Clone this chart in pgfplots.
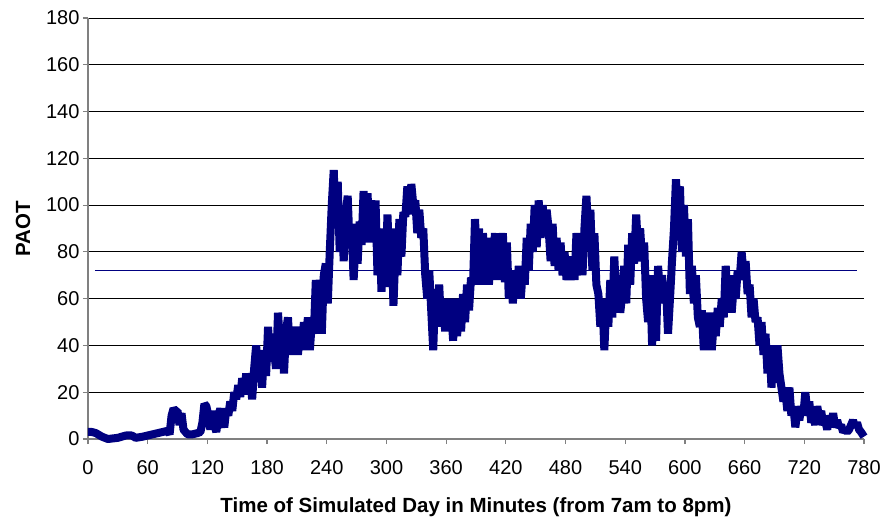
\documentclass[border=0pt]{standalone}
\usepackage{pgfplots}
\pgfplotsset{compat=1.18}
\usepackage{fontspec}
\setmainfont{Liberation Sans}
\definecolor{navyc}{RGB}{0,0,128}
\pgfplotstableread{
t v
0 3
4 3
8 2.5
14 1
20 0
30 0.5
38 1.5
44 1.5
48 0.5
55 1
65 2
75 3
80 3.5
82 2
84 10
86 13
88 12
90 12
92 6
94 11
96 4
100 2
105 2
110 2.5
113 3
115 7
117 15
119 14
121 10
123 4
125 12
127 6
129 3
131 10
133 13
135 8
137 5
139 13
141 10
143 16
145 12
147 20
149 17
151 23
153 18
155 26
157 19
159 28
161 22
163 26
165 17
167 30
169 40
171 28
173 35
175 22
177 38
179 27
181 48
183 33
185 45
187 38
189 30
191 54
193 40
195 48
197 28
199 46
201 52
203 36
205 44
207 38
209 48
211 36
213 45
215 38
217 50
219 40
221 52
223 38
225 50
227 45
229 68
231 55
233 60
235 45
237 70
239 75
241 58
243 80
245 100
247 115
249 90
251 110
253 80
255 100
257 76
259 95
261 104
263 82
265 92
267 68
269 85
271 75
273 93
275 83
277 106
279 95
281 105
283 84
285 100
287 88
289 102
291 70
293 90
295 63
297 80
299 65
301 96
303 73
305 90
307 57
309 80
311 70
313 94
315 78
317 97
319 95
321 108
323 96
325 109
327 100
329 102
331 88
333 98
335 86
337 90
339 70
341 60
343 72
345 55
347 38
349 64
351 50
353 66
355 48
357 60
359 46
361 60
363 50
365 56
367 42
369 60
371 44
373 58
375 46
377 62
379 50
381 66
383 55
385 69
387 66
389 94
391 75
393 90
395 66
397 88
399 70
401 86
403 66
405 82
407 70
409 88
411 68
413 86
415 74
417 88
419 67
421 84
423 60
425 72
427 58
429 70
431 62
433 74
435 60
437 72
439 66
441 86
443 72
445 92
447 80
449 100
451 82
453 102
455 86
457 100
459 88
461 98
463 90
465 76
467 92
469 74
471 86
473 72
475 84
477 70
479 80
481 68
483 78
485 70
487 76
489 68
491 88
493 72
495 84
497 70
499 90
501 104
503 86
505 98
507 72
509 88
511 66
513 62
515 48
517 60
519 38
521 58
523 48
525 68
527 52
529 78
531 60
533 70
535 54
537 62
539 74
541 58
543 83
545 66
547 88
549 75
551 96
553 80
555 90
557 76
559 84
561 60
563 50
565 70
567 40
569 60
571 42
573 74
575 62
577 70
579 58
581 65
583 45
585 60
587 76
589 90
591 111
593 95
595 108
597 80
599 100
601 78
603 94
605 62
607 74
609 58
611 70
613 52
615 48
617 55
619 38
621 50
623 42
625 54
627 38
629 50
631 44
633 56
635 48
637 60
639 52
641 74
643 58
645 70
647 54
649 65
651 60
653 72
655 68
657 80
659 70
661 76
663 62
665 66
667 52
669 60
671 50
673 52
675 40
677 50
679 36
681 45
683 28
685 40
687 22
689 36
691 24
693 40
695 28
697 22
699 16
701 20
703 12
705 22
707 10
709 14
711 5
713 12
715 8
717 14
719 10
721 20
723 12
725 16
727 7
729 10
731 6
733 14
735 9
737 12
739 6
741 8
743 4
745 10
747 6
749 11
751 5
753 8
755 5
757 6
759 3
761 4
763 3
765 4
767 6
769 8
771 5
773 7
775 4
777 3
780 1
}\paotdata
\begin{document}
\begin{tikzpicture}
\path (-88bp,-82bp) rectangle (801bp,439bp);
\begin{axis}[
  at={(0,0)}, anchor=south west,
  scale only axis, width=776bp, height=421bp,
  xmin=0, xmax=780, ymin=0, ymax=180,
  xtick={0,60,...,780}, ytick={0,20,...,180},
  axis x line*=bottom, axis y line*=left,
  axis line style={draw=black!50, line width=1.2bp},
  tick style={draw=black!50, line width=1.2bp},
  tick align=outside, major tick length=5bp,
  ymajorgrids, grid style={black, line width=0.9bp},
  /pgf/number format/assume math mode=true,
  ticklabel style={font=\fontsize{20bp}{24bp}\selectfont},
  xticklabel style={yshift=-13bp},
  label style={font=\fontsize{20.5bp}{24bp}\selectfont\bfseries},
  xlabel={Time of Simulated Day in Minutes (from 7am to 8pm)},
  ylabel={PAOT},
  xlabel style={at={(rel axis cs:0.5,0)}, anchor=base, yshift=-73bp},
  ylabel style={at={(axis description cs:-0.0838,0.5)}, anchor=center},
  clip=false,
]
\addplot[navyc, line width=1bp] coordinates {(7,72) (773,72)};
\addplot[navyc, line width=8bp, line join=bevel] table[x=t,y=v] {\paotdata};
\end{axis}
\end{tikzpicture}
\end{document}
